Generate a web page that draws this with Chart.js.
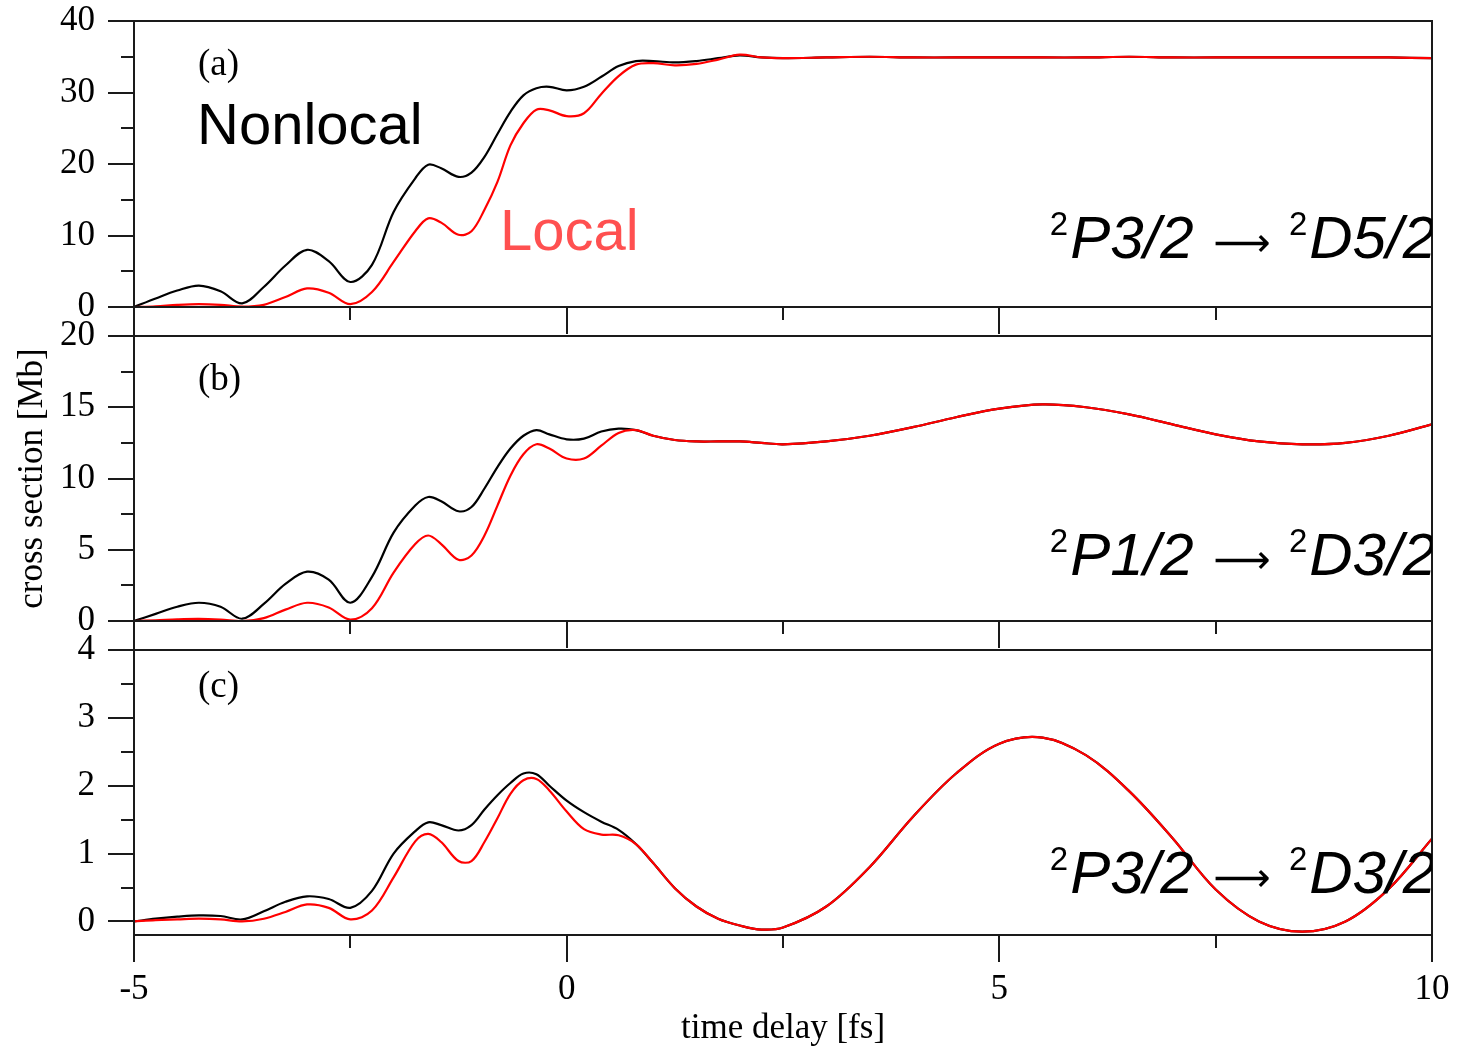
<!DOCTYPE html>
<html>
<head>
<meta charset="utf-8">
<title>cross section vs time delay</title>
<script src="https://cdn.jsdelivr.net/npm/chart.js@4.4.1/dist/chart.umd.min.js"></script>
<style>
  html, body { margin: 0; padding: 0; background: #fff; }
  #wrap { position: relative; width: 1458px; height: 1047px; overflow: hidden; background: #fff; }
  #wrap canvas { position: absolute; left: 0; }
</style>
</head>
<body>
<div id="wrap">
  <canvas id="panelA" width="1458" height="340" style="top:0px"></canvas>
  <canvas id="panelB" width="1458" height="340" style="top:320px"></canvas>
  <canvas id="panelC" width="1458" height="413" style="top:634px"></canvas>
</div>
<script>
// time delay [fs], shared by all panels
const delay = [
  -5, -4.75, -4.5, -4.25, -4, -3.75, -3.5, -3.25, -3, -2.75, -2.5, -2.25, -2,
  -1.75, -1.6, -1.45, -1.25, -1.1, -0.95, -0.8, -0.65, -0.5, -0.35, -0.2,
  0, 0.2, 0.4, 0.6, 0.8,
  1, 1.25, 1.5, 1.75, 2, 2.25, 2.5,
  3, 3.5, 4, 4.5, 5, 5.5, 6, 6.5, 7, 7.5, 8, 8.5, 9, 9.5, 10
];

// (a) 2P3/2 -> 2D5/2
const aNonlocal = [
  0.0, 1.2, 2.3, 3.0, 2.2, 0.5, 2.8, 5.8, 8.0, 6.4, 3.5, 5.9, 13.3,
  18.0, 19.9, 19.4, 18.2, 18.8, 21.0, 24.2, 27.3, 29.6, 30.6, 30.8,
  30.3, 30.8, 32.2, 33.7, 34.4,
  34.4, 34.2, 34.4, 34.8, 35.2, 34.9, 34.8,
  34.9, 35.0, 34.9, 34.9, 34.9, 34.9, 34.9, 35.0, 34.9, 34.9, 34.9, 34.9, 34.9, 34.9, 34.8
];
const aLocal = [
  0.0, 0.1, 0.3, 0.4, 0.3, 0.05, 0.3, 1.4, 2.6, 2.0, 0.4, 2.1, 6.3,
  10.6, 12.4, 11.8, 10.1, 10.6, 13.6, 17.5, 22.6, 25.7, 27.6, 27.5,
  26.7, 27.1, 29.8, 32.3, 33.9,
  34.1, 33.8, 34.0, 34.6, 35.3, 34.9, 34.8,
  34.9, 35.0, 34.9, 34.9, 34.9, 34.9, 34.9, 35.0, 34.9, 34.9, 34.9, 34.9, 34.9, 34.9, 34.8
];

// (b) 2P1/2 -> 2D3/2
const bNonlocal = [
  0.0, 0.5, 1.0, 1.28, 1.0, 0.16, 1.2, 2.6, 3.46, 2.9, 1.28, 3.1, 6.2,
  8.1, 8.7, 8.4, 7.7, 8.0, 9.3, 10.8, 12.1, 13.0, 13.4, 13.1,
  12.75, 12.8, 13.3, 13.5, 13.4,
  13.0, 12.7, 12.6, 12.6, 12.6, 12.5, 12.4,
  12.6, 13.0, 13.6, 14.3, 14.9, 15.2, 15.0, 14.5, 13.8, 13.1, 12.6, 12.4, 12.5, 13.0, 13.8
];
const bLocal = [
  0.0, 0.05, 0.12, 0.15, 0.1, 0.0, 0.2, 0.8, 1.28, 0.95, 0.1, 0.9, 3.4,
  5.4, 6.0, 5.4, 4.3, 4.6, 6.0, 8.1, 10.2, 11.7, 12.4, 12.1,
  11.4, 11.4, 12.3, 13.2, 13.4,
  13.0, 12.7, 12.6, 12.6, 12.6, 12.5, 12.4,
  12.6, 13.0, 13.6, 14.3, 14.9, 15.2, 15.0, 14.5, 13.8, 13.1, 12.6, 12.4, 12.5, 13.0, 13.8
];

// (c) 2P3/2 -> 2D3/2
const cNonlocal = [
  0.0, 0.04, 0.07, 0.09, 0.08, 0.03, 0.15, 0.29, 0.37, 0.33, 0.2, 0.45, 1.0,
  1.33, 1.46, 1.42, 1.34, 1.42, 1.65, 1.86, 2.04, 2.18, 2.17, 2.0,
  1.78, 1.61, 1.47, 1.35, 1.14,
  0.86, 0.49, 0.22, 0.04, -0.06, -0.12, -0.09,
  0.22, 0.80, 1.54, 2.18, 2.62, 2.71, 2.45, 1.92, 1.23, 0.47, 0.0, -0.15, 0.0, 0.48, 1.22
];
const cLocal = [
  0.0, 0.02, 0.03, 0.04, 0.03, 0.0, 0.04, 0.14, 0.25, 0.2, 0.03, 0.16, 0.65,
  1.18, 1.29, 1.17, 0.89, 0.89, 1.17, 1.52, 1.88, 2.08, 2.1, 1.93,
  1.62, 1.36, 1.28, 1.27, 1.14,
  0.86, 0.49, 0.22, 0.04, -0.06, -0.12, -0.09,
  0.22, 0.80, 1.54, 2.18, 2.62, 2.71, 2.45, 1.92, 1.23, 0.47, 0.0, -0.15, 0.0, 0.48, 1.22
];

// axis ranges and tick positions
const xRange = [-5, 10];
const xTicks = [-5, -2.5, 0, 2.5, 5, 7.5, 10];
const xMajorStep = 5;
const yRanges = { a: [0, 40], b: [0, 20], c: [-0.2, 4] };
const yTicks = {
  a: [0, 5, 10, 15, 20, 25, 30, 35, 40],
  b: [0, 2.5, 5, 7.5, 10, 12.5, 15, 17.5, 20],
  c: [0, 0.5, 1, 1.5, 2, 2.5, 3, 3.5, 4],
};
const yMajorSteps = { a: 10, b: 5, c: 1 };
const panelTags = { a: '(a)', b: '(b)', c: '(c)' };
const transitions = {
  a: [['2', 'P3/2'], ['2', 'D5/2']],
  b: [['2', 'P1/2'], ['2', 'D3/2']],
  c: [['2', 'P3/2'], ['2', 'D3/2']],
};

const SERIF = '"Liberation Serif", "Times New Roman", serif';
const SANS = '"Liberation Sans", Arial, "DejaVu Sans", sans-serif';
const isMultiple = (v, step) => Math.abs(v / step - Math.round(v / step)) < 1e-6;

function drawTransition(ctx, area, terms, baseline) {
  const big = 'italic 60px ' + SANS;
  const sup = '33px ' + SANS;
  const arrowFont = '40px "DejaVu Sans", sans-serif';
  const pieces = [];
  terms.forEach((t, i) => {
    if (i > 0) pieces.push({ text: '\u27F6', font: arrowFont, dy: -2, gapBefore: 20, gapAfter: 18 });
    pieces.push({ text: t[0], font: sup, dy: -23, gapBefore: 0, gapAfter: 2 });
    pieces.push({ text: t[1], font: big, dy: 0, gapBefore: 0, gapAfter: 0 });
  });
  let total = 0;
  pieces.forEach(p => {
    ctx.font = p.font;
    p.w = ctx.measureText(p.text).width;
    total += p.gapBefore + p.w + p.gapAfter;
  });
  let x = area.right + 4 - total;
  ctx.save();
  ctx.beginPath();
  ctx.rect(area.left, area.top, area.right - area.left, area.bottom - area.top);
  ctx.clip();
  ctx.fillStyle = '#000';
  ctx.textBaseline = 'alphabetic';
  ctx.textAlign = 'left';
  pieces.forEach(p => {
    x += p.gapBefore;
    ctx.font = p.font;
    ctx.fillText(p.text, x, baseline + p.dy);
    x += p.w + p.gapAfter;
  });
  ctx.restore();
}

const framePlugin = {
  id: 'frame',
  afterDraw(chart, args, opts) {
    const { ctx, chartArea: area, scales: { x, y } } = chart;
    ctx.save();
    ctx.strokeStyle = '#1a1a1a';
    ctx.lineWidth = 2;
    ctx.strokeRect(area.left, area.top, area.right - area.left, area.bottom - area.top);
    ctx.beginPath();
    x.ticks.forEach(t => {
      const px = Math.round(x.getPixelForValue(t.value));
      let len = isMultiple(t.value, xMajorStep) ? opts.xMajor : opts.xMinor;
      if (t.value === x.min || t.value === x.max) len = opts.xEdge;
      ctx.moveTo(px, area.bottom);
      ctx.lineTo(px, area.bottom + len);
    });
    y.ticks.forEach(t => {
      const py = Math.round(y.getPixelForValue(t.value));
      const len = isMultiple(t.value, opts.yMajor) ? 26 : 13;
      ctx.moveTo(area.left - len, py);
      ctx.lineTo(area.left, py);
    });
    ctx.stroke();

    ctx.fillStyle = '#000';
    ctx.textAlign = 'left';
    ctx.textBaseline = 'alphabetic';
    ctx.font = '37px ' + SERIF;
    ctx.fillText(opts.tag, 198, area.top + opts.tagDy);
    (opts.notes || []).forEach(n => {
      ctx.font = n.font;
      ctx.fillStyle = n.color;
      ctx.fillText(n.text, n.x, area.top + n.dy);
    });
    drawTransition(ctx, area, opts.transition, area.bottom - opts.transitionRise);
    ctx.restore();
  }
};

function makePanel(canvasId, key, nonlocal, local, cfg) {
  return new Chart(document.getElementById(canvasId).getContext('2d'), {
    type: 'line',
    data: {
      labels: delay,
      datasets: [
        {
          label: 'Local',
          data: local,
          borderColor: '#ff0000',
          borderWidth: 2.2,
          pointRadius: 0,
          tension: 0.35,
        },
        {
          label: 'Nonlocal',
          data: nonlocal,
          borderColor: '#000000',
          borderWidth: 2.2,
          pointRadius: 0,
          tension: 0.35,
        },
      ],
    },
    options: {
      responsive: false,
      animation: false,
      events: [],
      layout: { padding: { top: cfg.padTop, right: 26, left: 0, bottom: 0 } },
      plugins: {
        legend: { display: false },
        tooltip: { enabled: false },
        frame: {
          tag: panelTags[key],
          tagDy: cfg.tagDy,
          yMajor: yMajorSteps[key],
          xMajor: 27,
          xMinor: 13,
          xEdge: cfg.xEdge,
          notes: cfg.notes,
          transition: transitions[key],
          transitionRise: cfg.transitionRise,
        },
      },
      scales: {
        x: {
          type: 'linear',
          min: xRange[0],
          max: xRange[1],
          grid: { drawOnChartArea: false, drawTicks: true, tickLength: 27, tickColor: 'rgba(0,0,0,0)' },
          border: { display: false },
          afterBuildTicks: s => { s.ticks = xTicks.map(v => ({ value: v })); },
          ticks: {
            display: cfg.showX,
            autoSkip: false,
            maxRotation: 0,
            padding: 7,
            color: '#000',
            font: { family: SERIF, size: 35 },
            callback: v => isMultiple(v, xMajorStep) ? String(v) : '',
          },
          title: {
            display: cfg.showX,
            text: 'time delay [fs]',
            color: '#000',
            font: { family: SERIF, size: 35 },
            padding: { top: 0, bottom: -3 },
          },
          afterFit: s => { s.height = cfg.xHeight; s.paddingLeft = 0; s.paddingRight = 0; },
        },
        y: {
          min: yRanges[key][0],
          max: yRanges[key][1],
          grid: { drawOnChartArea: false, drawTicks: true, tickLength: 26, tickColor: 'rgba(0,0,0,0)' },
          border: { display: false },
          afterBuildTicks: s => { s.ticks = yTicks[key].map(v => ({ value: v })); },
          ticks: {
            autoSkip: false,
            padding: 13,
            color: '#000',
            font: { family: SERIF, size: 35 },
            callback: v => isMultiple(v, yMajorSteps[key]) ? String(v) : '',
          },
          title: {
            display: cfg.showYTitle,
            text: 'cross section [Mb]',
            color: '#000',
            font: { family: SERIF, size: 35 },
            padding: { top: 12, bottom: 0 },
          },
          afterFit: s => { s.width = 134; s.paddingTop = 0; s.paddingBottom = 0; },
        },
      },
    },
    plugins: [framePlugin],
  });
}

makePanel('panelA', 'a', aNonlocal, aLocal, {
  padTop: 21, xHeight: 33, xEdge: 29, showX: false, showYTitle: false,
  tagDy: 54, transitionRise: 49,
  notes: [
    { text: 'Nonlocal', x: 197, dy: 123, font: '58px ' + SANS, color: '#000' },
    { text: 'Local', x: 500, dy: 229, font: '58px ' + SANS, color: '#ff5050' },
  ],
});
makePanel('panelB', 'b', bNonlocal, bLocal, {
  padTop: 16, xHeight: 39, xEdge: 29, showX: false, showYTitle: true,
  tagDy: 54, transitionRise: 46, notes: [],
});
makePanel('panelC', 'c', cNonlocal, cLocal, {
  padTop: 16, xHeight: 112, xEdge: 27, showX: true, showYTitle: false,
  tagDy: 47, transitionRise: 42, notes: [],
});
</script>
</body>
</html>
